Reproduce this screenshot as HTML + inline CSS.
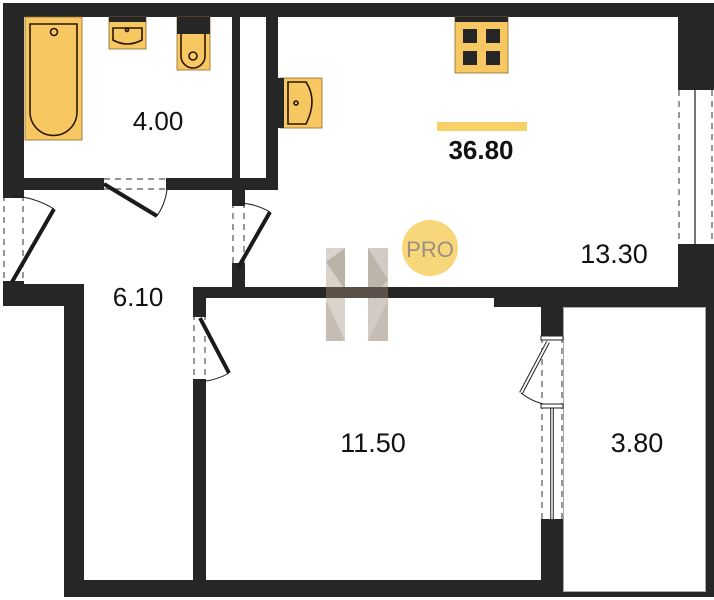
<!DOCTYPE html>
<html><head><meta charset="utf-8"><style>
html,body{margin:0;padding:0;background:#fff;}
svg{display:block;}
text{font-family:"Liberation Sans",sans-serif;}
</style></head><body>
<svg width="714" height="600" viewBox="0 0 714 600" xmlns="http://www.w3.org/2000/svg">
<rect width="714" height="600" fill="#fff"/>
<g fill="#262626">
<!-- top wall -->
<rect x="3" y="3" width="711" height="14"/>
<!-- left wall upper -->
<rect x="3" y="3" width="21" height="190"/>
<!-- bath bottom wall -->
<rect x="24" y="178" width="80" height="12"/>
<rect x="166" y="178" width="112" height="12"/>
<!-- verticals -->
<rect x="232" y="17" width="8" height="173"/>
<rect x="266" y="17" width="12" height="173"/>
<rect x="232" y="190" width="13" height="12"/>
<!-- right wall -->
<rect x="678" y="3" width="36" height="85"/>
<rect x="678" y="246" width="36" height="61"/>
<!-- left block lower -->
<rect x="3" y="284" width="81" height="22"/>
<!-- corridor left wall -->
<rect x="64" y="284" width="20" height="313"/>
<!-- wall between corridor and living door -->
<rect x="232" y="268" width="13" height="30"/>
<!-- corridor right / bedroom left -->
<rect x="193" y="287" width="13" height="27"/>
<rect x="193" y="384" width="13" height="196"/>
<!-- main horizontal wall -->
<rect x="193" y="287" width="521" height="11"/>
<rect x="494" y="287" width="220" height="20"/>
<!-- divider -->
<rect x="541" y="298" width="22" height="39"/>
<rect x="541" y="522" width="22" height="58"/>
<!-- bottom wall -->
<rect x="64" y="580" width="499" height="17"/>
<rect x="541" y="591" width="173" height="6"/>
<rect x="706" y="298" width="8" height="299"/>
</g>
<!-- balcony outline -->
<rect x="563.5" y="307.5" width="142" height="284" fill="#fff" stroke="#aaa" stroke-width="1"/>
<!-- doors -->
<g stroke="#555" stroke-width="1.2" stroke-dasharray="6,5" fill="none">
<line x1="4" y1="195" x2="4" y2="284"/><line x1="23" y1="195" x2="23" y2="284"/>
<line x1="104" y1="179" x2="166" y2="179"/><line x1="104" y1="189" x2="166" y2="189"/>
<line x1="233" y1="202" x2="233" y2="268"/><line x1="244" y1="202" x2="244" y2="268"/>
<line x1="194" y1="314" x2="194" y2="384"/><line x1="205" y1="314" x2="205" y2="384"/>
<line x1="542" y1="337" x2="542" y2="522"/><line x1="562" y1="337" x2="562" y2="522"/>
<line x1="679" y1="90" x2="679" y2="244"/><line x1="712" y1="90" x2="712" y2="244"/>
</g>
<g fill="#262626">
<rect x="3" y="193" width="21" height="5"/><rect x="3" y="281" width="21" height="5"/>
<rect x="232" y="200" width="13" height="6"/><rect x="232" y="263" width="13" height="6"/>
<rect x="193" y="312" width="13" height="5"/><rect x="193" y="379" width="13" height="6"/>
<rect x="541" y="519" width="22" height="5"/>
<rect x="678" y="244" width="36" height="3"/><rect x="678" y="87" width="36" height="3"/>
</g>
<g stroke="#1a1a1a" fill="none">
<line x1="12" y1="282" x2="54" y2="209" stroke-width="4"/>
<path d="M12 196 A86 86 0 0 1 54 209" stroke-width="1"/>
<line x1="104" y1="184" x2="157" y2="216" stroke-width="4"/>
<path d="M157 216 A60 60 0 0 0 167 190" stroke-width="1"/>
<line x1="238" y1="268" x2="270" y2="212" stroke-width="4"/>
<path d="M240 203 A66 66 0 0 1 270 212" stroke-width="1"/>
<line x1="200" y1="318" x2="229" y2="373" stroke-width="4"/>
<path d="M229 373 A62 62 0 0 1 206 381" stroke-width="1"/>
<path d="M548 342 L521 393" stroke-width="4"/>
<path d="M548 342 L521 393" stroke="#fff" stroke-width="2"/>
<path d="M521 393 A60 60 0 0 0 543 404" stroke-width="1"/>
<line x1="552" y1="404" x2="552" y2="519" stroke-width="3.5"/>
<line x1="552" y1="404" x2="552" y2="519" stroke="#fff" stroke-width="1.5"/>
<line x1="695" y1="90" x2="695" y2="244" stroke-width="1.2"/>
</g>
<rect x="541" y="336" width="22" height="4" fill="#fff" stroke="#222" stroke-width="1"/>
<rect x="541" y="404" width="22" height="4" fill="#fff" stroke="#222" stroke-width="1"/>
<!-- fixtures -->
<g stroke="#8a6a2a" stroke-width="0.8">
<rect x="25" y="17" width="57" height="123" fill="#f7c862"/>
<rect x="109" y="17" width="37" height="32" fill="#f7c862"/>
<rect x="177" y="17" width="33" height="53" fill="#f7c862"/>
<rect x="280" y="78" width="42" height="50" fill="#f7c862"/>
<rect x="455" y="17" width="53" height="56" fill="#f7c862"/>
</g>
<g fill="#262626">
<rect x="109" y="17" width="37" height="5"/>
<rect x="177" y="17" width="33" height="17"/>
<rect x="277" y="78" width="7" height="50"/>
<rect x="455" y="17" width="53" height="5"/>
<rect x="463" y="29" width="14" height="14"/><rect x="486" y="29" width="14" height="14"/>
<rect x="463" y="51" width="14" height="14"/><rect x="486" y="51" width="14" height="14"/>
</g>
<g fill="none" stroke="#2a1505" stroke-width="1.6">
<path d="M30 24 L77 24 L77 112 A23.5 23.5 0 0 1 30 112 Z"/>
<circle cx="54" cy="32" r="3.5"/>
<path d="M113 28 L142 28 L142 40 Q127 48 113 40 Z"/>
<circle cx="127" cy="30" r="1.5"/>
<path d="M181 34 L181 56 A12 12 0 0 0 205 56 L205 34"/>
<circle cx="193" cy="56" r="4"/>
<path d="M288 82 L306 82 Q318 100 306 124 L288 124 Z"/>
<circle cx="296" cy="103" r="2"/>
</g>
<!-- watermark -->
<g>
<rect x="326" y="248" width="19" height="93" fill="#d9d3cc"/>
<rect x="368" y="248" width="20" height="93" fill="#d2cbc4"/>
<polygon points="326,262 345,248 345,290" fill="#bbb2a8"/>
<polygon points="368,248 388,280 368,300" fill="#bdb4aa"/>
<polygon points="326,300 345,341 326,341" fill="#c5bdb3"/>
<polygon points="388,300 368,341 388,341" fill="#c5bdb3"/>
<rect x="326" y="287" width="62" height="11" fill="#5a5047"/>
</g>
<circle cx="430" cy="248" r="28" fill="#f8d77a"/>
<text x="430" y="257" font-size="22" fill="#9a8f80" text-anchor="middle">PRO</text>
<rect x="437" y="122" width="90" height="9" fill="#f7d068"/>
<g fill="#111" text-anchor="middle">
<text x="481" y="159" font-size="26" font-weight="bold">36.80</text>
<text x="158" y="130" font-size="26">4.00</text>
<text x="614" y="263" font-size="27">13.30</text>
<text x="138" y="306" font-size="26">6.10</text>
<text x="373" y="452" font-size="27">11.50</text>
<text x="637" y="452" font-size="27">3.80</text>
</g>
</svg>
</body></html>
